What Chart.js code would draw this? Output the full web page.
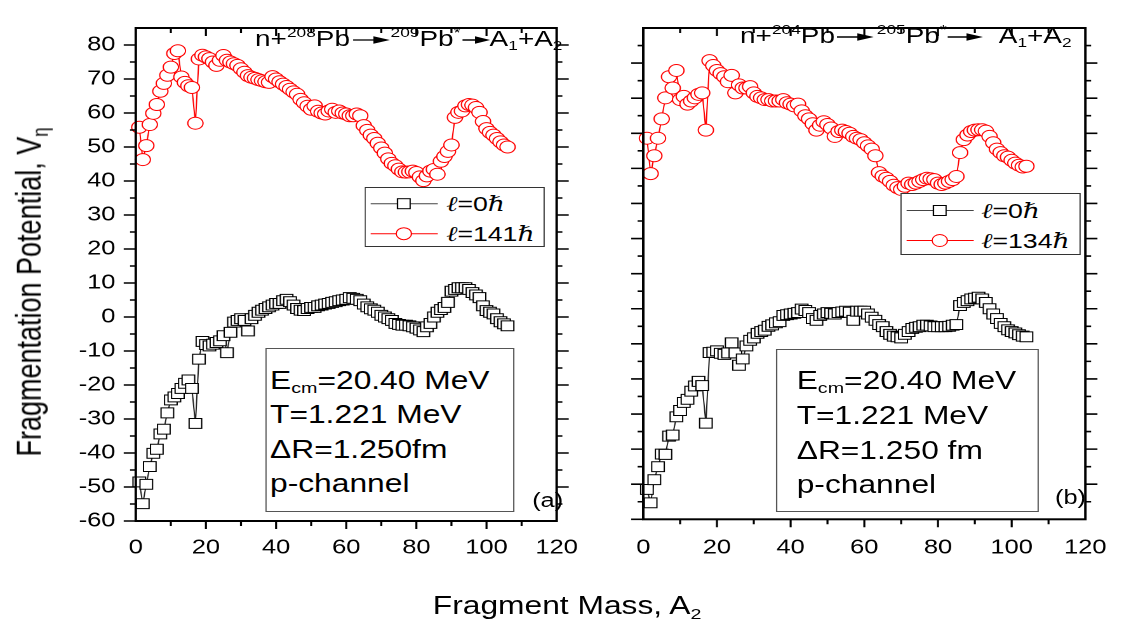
<!DOCTYPE html>
<html>
<head>
<meta charset="utf-8">
<title>Fragmentation potential</title>
<script src="https://cdn.jsdelivr.net/npm/chart.js@4.4.1/dist/chart.umd.min.js"></script>
<style>
  html, body { margin: 0; padding: 0; background: #fff; }
  body { width: 1128px; height: 622px; overflow: hidden; position: relative; }
  /* whole figure is drawn a bit narrower and widened horizontally */
  #stage { position: absolute; left: 0; top: 0; width: 888px; height: 622px;
           transform: scaleX(1.27); transform-origin: 0 0;
           font-family: "Liberation Sans", Arial, Helvetica, sans-serif; color: #000; }
  canvas { position: absolute; top: 0; }
  .label { position: absolute; white-space: nowrap; line-height: 1; }
  .up { position: relative; font-size: 0.62em; top: -0.66em; }
  .dn { position: relative; font-size: 0.62em; top: 0.32em; }
  .arrow { display: inline-block; vertical-align: middle; }
  .eq { font-size: 22px; }
  .box { position: absolute; border: 1px solid #555; background: #fff; }
  .info { font-size: 25px; }
  .lg { position: absolute; border: 1px solid #333; background: #fff; }
  .lg svg { position: absolute; left: 0; }
  .lg .t { position: absolute; left: 63px; font-size: 21px; line-height: 1; white-space: nowrap; }
  .sc { font-family: "DejaVu Serif", serif; font-style: italic; }
  .axt { font-size: 25px; }
</style>
</head>
<body>
<div id="stage">
  <canvas id="panelA" width="470" height="622" style="left:0"></canvas>
  <canvas id="panelB" width="410" height="622" style="left:478px"></canvas>

  <!-- reaction labels -->
  <div class="label eq" style="left:200.8px;top:28px">n+<span class="up">208</span>Pb<svg class="arrow" width="29" height="10" style="margin:0 1px 0 2px"><line x1="0" y1="5" x2="19" y2="5" stroke="#000" stroke-width="1.3"/><path d="M16 1.3 L29 5 L16 8.7 Z"/></svg><span class="up">209</span>Pb<span class="up">*</span><svg class="arrow" width="22" height="10" style="margin:0 0 0 1px"><line x1="0" y1="5" x2="12" y2="5" stroke="#000" stroke-width="1.3"/><path d="M10 1.3 L22 5 L10 8.7 Z"/></svg>A<span class="dn">1</span>+A<span class="dn">2</span></div>
  <div class="label eq" style="left:582.7px;top:24.7px">n+<span class="up">204</span>Pb<svg class="arrow" width="29" height="10" style="margin:0 2px 0 2px"><line x1="0" y1="5" x2="19" y2="5" stroke="#000" stroke-width="1.3"/><path d="M16 1.3 L29 5 L16 8.7 Z"/></svg><span class="up">205</span>Pb<span class="up">*</span><svg class="arrow" width="28" height="10" style="margin:0 12px 0 1px"><line x1="0" y1="5" x2="18" y2="5" stroke="#000" stroke-width="1.3"/><path d="M15 1.3 L28 5 L15 8.7 Z"/></svg>A<span class="dn">1</span>+A<span class="dn">2</span></div>

  <!-- legends -->
  <div class="lg" style="left:287.4px;top:187px;width:140px;height:58px">
    <svg width="60" height="58">
      <line x1="3.9" y1="15.7" x2="56.7" y2="15.7" stroke="#444" stroke-width="1"/>
      <rect x="25" y="10.7" width="10" height="10" fill="#fff" stroke="#000" stroke-width="1"/>
      <line x1="3.9" y1="45.7" x2="56.7" y2="45.7" stroke="#ff0000" stroke-width="1"/>
      <circle cx="30" cy="45.7" r="6" fill="#fff" stroke="#ff0000" stroke-width="1"/>
    </svg>
    <div class="t" style="top:5px"><span class="sc">ℓ</span>=0<span class="sc">ℏ</span></div>
    <div class="t" style="top:35px"><span class="sc">ℓ</span>=141<span class="sc">ℏ</span></div>
  </div>
  <div class="lg" style="left:708.7px;top:193.3px;width:140px;height:60px">
    <svg width="60" height="60">
      <line x1="3.9" y1="16.5" x2="56.7" y2="16.5" stroke="#444" stroke-width="1"/>
      <rect x="25" y="11.5" width="10" height="10" fill="#fff" stroke="#000" stroke-width="1"/>
      <line x1="3.9" y1="46.5" x2="56.7" y2="46.5" stroke="#ff0000" stroke-width="1"/>
      <circle cx="30" cy="46.5" r="6" fill="#fff" stroke="#ff0000" stroke-width="1"/>
    </svg>
    <div class="t" style="top:6px"><span class="sc">ℓ</span>=0<span class="sc">ℏ</span></div>
    <div class="t" style="top:36px"><span class="sc">ℓ</span>=134<span class="sc">ℏ</span></div>
  </div>

  <!-- parameter boxes -->
  <div class="box" style="left:208.6px;top:348.3px;width:194.8px;height:162px"></div>
  <div class="label info" style="left:212.6px;top:367.5px">E<span class="dn">cm</span>=20.40 MeV</div>
  <div class="label info" style="left:212.6px;top:402px">T=1.221 MeV</div>
  <div class="label info" style="left:212.6px;top:436.5px">&Delta;R=1.250fm</div>
  <div class="label info" style="left:212.6px;top:471px">p-channel</div>
  <div class="label" style="left:419px;top:490px;font-size:20px">(a)</div>

  <div class="box" style="left:610.8px;top:349px;width:205.6px;height:161px"></div>
  <div class="label info" style="left:627.3px;top:367.5px">E<span class="dn">cm</span>=20.40 MeV</div>
  <div class="label info" style="left:627.3px;top:403px">T=1.221 MeV</div>
  <div class="label info" style="left:627.3px;top:437.5px">&Delta;R=1.250 fm</div>
  <div class="label info" style="left:627.3px;top:472px">p-channel</div>
  <div class="label" style="left:830.7px;top:487px;font-size:20px">(b)</div>

  <!-- axis titles -->
  <div class="label axt" style="left:23.6px;top:292px;font-size:27px;transform:translate(-50%,-50%) rotate(-90deg)">Fragmentation Potential, V<span class="dn">&eta;</span></div>
  <div class="label axt" style="left:446.5px;top:605px;transform:translate(-50%,-50%)">Fragment Mass, A<span class="dn">2</span></div>
</div>

<script>
// fragment mass A2 for each panel
const massA = [
  1, 2, 3, 4, 5, 6, 7, 8, 9, 10, 11, 12, 13, 14, 15, 16, 17, 18, 19, 20,
  21, 22, 23, 24, 25, 26, 27, 28, 29, 30, 31, 32, 33, 34, 35, 36, 37, 38, 39, 40,
  41, 42, 43, 44, 45, 46, 47, 48, 49, 50, 51, 52, 53, 54, 55, 56, 57, 58, 59, 60,
  61, 62, 63, 64, 65, 66, 67, 68, 69, 70, 71, 72, 73, 74, 75, 76, 77, 78, 79, 80,
  81, 82, 83, 84, 85, 86, 87, 88, 89, 90, 91, 92, 93, 94, 95, 96, 97, 98, 99, 100,
  101, 102, 103, 104, 105, 106
];
const massB = [
  1, 2, 3, 4, 5, 6, 7, 8, 9, 10, 11, 12, 13, 14, 15, 16, 17, 18, 19, 20,
  21, 22, 23, 24, 25, 26, 27, 28, 29, 30, 31, 32, 33, 34, 35, 36, 37, 38, 39, 40,
  41, 42, 43, 44, 45, 46, 47, 48, 49, 50, 51, 52, 53, 54, 55, 56, 57, 58, 59, 60,
  61, 62, 63, 64, 65, 66, 67, 68, 69, 70, 71, 72, 73, 74, 75, 76, 77, 78, 79, 80,
  81, 82, 83, 84, 85, 86, 87, 88, 89, 90, 91, 92, 93, 94, 95, 96, 97, 98, 99, 100,
  101, 102, 103, 104
];

// n + 208Pb -> 209Pb*, V_eta (MeV)
const potL0A = [
  -48.5, -54.9, -49.2, -44.0, -40.1, -38.9, -34.4, -33.0, -28.2, -24.4,
  -23.5, -22.5, -21.0, -19.5, -18.5, -21.0, -31.3, -12.4, -7.2, -8.1,
  -8.5, -8.0, -7.5, -7.0, -5.5, -10.5, -4.5, -1.5, -1.0, -0.5,
  -1.0, -4.1, -0.5, 0.5, 1.4, 2.0, 2.5, 3.0, 3.5, 4.0,
  4.0, 4.8, 5.2, 4.5, 3.5, 2.5, 2.0, 1.9, 2.5, 2.8,
  2.8, 3.3, 3.5, 3.8, 4.0, 4.3, 4.5, 4.8, 5.0, 5.2,
  5.7, 5.5, 5.2, 4.8, 3.8, 3.0, 2.4, 2.0, 1.4, 0.5,
  0.0, -0.5, -1.0, -1.9, -2.2, -2.4, -2.4, -2.6, -2.9, -3.3,
  -3.8, -4.3, -2.9, -1.9, 0.0, 1.4, 2.2, 2.8, 4.3, 7.6,
  8.1, 8.6, 8.6, 8.6, 8.1, 7.2, 6.5, 5.7, 3.3, 1.9,
  1.4, 0.9, -0.5, -1.4, -2.0, -2.6
];
const potL141A = [
  55.8, 46.3, 50.4, 56.6, 59.9, 62.5, 66.4, 68.7, 71.1, 73.5,
  77.5, 78.3, 70.6, 69.0, 68.0, 67.5, 57.0, 75.9, 77.0, 76.5,
  76.0, 75.0, 74.0, 75.5, 76.9, 75.5, 75.0, 74.5, 74.0, 73.0,
  72.0, 71.0, 70.5, 70.2, 69.8, 69.5, 69.2, 69.0, 70.7, 70.0,
  69.2, 68.5, 67.8, 67.0, 66.2, 65.5, 64.0, 63.0, 62.0, 61.1,
  62.1, 60.5, 60.0, 59.7, 60.6, 61.1, 60.2, 60.6, 60.0, 59.7,
  59.2, 59.2, 59.7, 59.2, 56.3, 54.9, 53.5, 52.5, 51.1, 49.7,
  48.2, 46.5, 45.2, 44.5, 43.5, 42.7, 42.6, 42.7, 42.9, 42.5,
  41.2, 40.1, 41.5, 42.9, 43.4, 42.0, 45.8, 47.2, 48.7, 50.6,
  58.7, 60.2, 60.6, 62.1, 62.5, 62.3, 61.6, 60.2, 57.5, 55.4,
  54.3, 53.5, 52.5, 51.5, 50.6, 50.0
];

// n + 204Pb -> 205Pb*, V_eta (MeV)
const potL0B = [
  -51.5, -55.3, -48.7, -45.0, -41.4, -41.5, -36.3, -36.0, -30.8, -29.0,
  -26.7, -25.8, -23.5, -22.0, -20.7, -21.9, -32.6, -12.5, -12.4, -12.0,
  -12.7, -13.0, -12.6, -9.7, -12.6, -16.1, -14.3, -10.6, -9.0, -8.3,
  -7.0, -6.5, -6.1, -5.0, -4.6, -4.0, -3.7, -1.9, -1.7, -1.5,
  -1.3, -1.1, -0.1, -0.5, -1.1, -2.8, -3.3, -1.9, -1.5, -1.1,
  -1.3, -1.5, -1.1, -0.9, -0.7, -1.0, -3.3, -0.7, -0.7, -0.7,
  -1.5, -2.4, -3.3, -4.5, -5.1, -6.5, -7.3, -7.8, -8.0, -8.3,
  -7.3, -6.5, -5.6, -5.3, -5.1, -4.7, -4.7, -4.9, -5.1, -5.1,
  -5.1, -5.1, -5.0, -4.7, -4.5, 0.9, 1.8, 2.3, 2.8, 3.0,
  3.3, 2.8, 1.8, 0.0, -1.5, -2.8, -4.2, -5.1, -6.0, -6.5,
  -6.9, -7.4, -7.8, -8.0
];
const potL134B = [
  48.6, 38.5, 43.6, 48.6, 54.1, 60.1, 66.1, 62.9, 67.9, 59.6,
  60.5, 58.3, 59.2, 60.1, 61.1, 61.5, 50.9, 70.7, 69.3, 67.9,
  67.0, 66.1, 64.7, 66.5, 61.5, 63.8, 62.9, 62.9, 63.3, 61.5,
  60.5, 60.1, 59.6, 59.6, 59.2, 59.2, 59.2, 59.6, 58.7, 58.3,
  57.8, 58.3, 56.4, 55.0, 54.1, 52.7, 50.9, 52.3, 53.3, 52.5,
  51.5, 49.1, 50.5, 50.9, 50.5, 50.0, 49.1, 48.6, 48.2, 47.3,
  46.4, 45.5, 43.6, 38.8, 37.8, 37.2, 36.3, 35.2, 34.5, 34.0,
  34.9, 35.8, 35.4, 35.8, 36.3, 36.8, 37.2, 37.0, 36.8, 35.8,
  35.4, 35.8, 36.3, 36.8, 37.7, 44.5, 48.2, 49.5, 50.5, 50.9,
  51.0, 51.0, 50.6, 49.1, 47.3, 45.5, 44.5, 43.6, 43.2, 42.3,
  41.5, 40.9, 40.4, 40.6
];

// labelled ticks
const massTicks = [0, 20, 40, 60, 80, 100, 120];
const potTicks = [-60, -50, -40, -30, -20, -10, 0, 10, 20, 30, 40, 50, 60, 70, 80];

const tickFont = { family: '"Liberation Sans", Arial, sans-serif', size: 20 };

function points(xs, ys) {
  return xs.map((x, i) => ({ x: x, y: ys[i] }));
}

// closed frame with outward ticks left/right/bottom and inward ticks on top
const frameTicks = {
  id: 'frameTicks',
  afterDatasetsDraw(chart) {
    const { ctx, chartArea: a, scales: { x, y } } = chart;
    ctx.save();
    ctx.strokeStyle = '#000';
    ctx.lineWidth = 1.6;
    ctx.beginPath();
    y.ticks.forEach(t => {
      if (t.value <= y.min || t.value >= y.max) return;
      const py = y.getPixelForValue(t.value);
      const len = potTicks.includes(t.value) ? 9.5 : 4.5;
      ctx.moveTo(a.left - len, py); ctx.lineTo(a.left, py);
      ctx.moveTo(a.right, py); ctx.lineTo(a.right + len, py);
    });
    y.ticks.forEach(t => {
      if (t.value !== y.min) return;
      const py = y.getPixelForValue(t.value);
      ctx.moveTo(a.left - 9.5, py); ctx.lineTo(a.left, py);
    });
    x.ticks.forEach(t => {
      if (t.value <= x.min || t.value >= x.max) return;
      const px = x.getPixelForValue(t.value);
      const len = massTicks.includes(t.value) ? 8 : 5;
      ctx.moveTo(px, a.bottom); ctx.lineTo(px, a.bottom + len);
      ctx.moveTo(px, a.top); ctx.lineTo(px, a.top + len);
    });
    ctx.stroke();
    ctx.lineWidth = 2;
    ctx.strokeRect(a.left, a.top, a.right - a.left, a.bottom - a.top);
    ctx.restore();
  }
};

function makePanel(id, xs, yZero, yHigh, labelHigh, cfg) {
  const ctx = document.getElementById(id).getContext('2d');
  return new Chart(ctx, {
    type: 'line',
    data: {
      datasets: [{
        label: 'l=0',
        data: points(xs, yZero),
        borderColor: '#222',
        borderWidth: 1,
        pointStyle: 'rect',
        pointRadius: 7,
        pointBorderColor: '#000',
        pointBorderWidth: 1,
        pointBackgroundColor: '#fff',
        tension: 0,
        clip: false
      }, {
        label: labelHigh,
        data: points(xs, yHigh),
        borderColor: '#ff0000',
        borderWidth: 1,
        pointStyle: 'circle',
        pointRadius: 6,
        pointBorderColor: '#ff0000',
        pointBorderWidth: 1,
        pointBackgroundColor: '#fff',
        tension: 0,
        clip: false
      }]
    },
    options: {
      responsive: false,
      animation: false,
      devicePixelRatio: 2,
      layout: { padding: { top: cfg.top, right: cfg.right, left: 0, bottom: 0 } },
      plugins: { legend: { display: false }, tooltip: { enabled: false } },
      scales: {
        x: {
          type: 'linear',
          min: 0,
          max: 120,
          grid: { display: false, drawTicks: false },
          border: { display: false },
          ticks: {
            stepSize: 10,
            autoSkip: false,
            maxRotation: 0,
            padding: cfg.xPad,
            color: '#000',
            font: tickFont,
            callback: function(value) {
              return massTicks.includes(value) ? value : '';
            }
          },
          afterFit: function(scale) { scale.height = cfg.xHeight; }
        },
        y: {
          type: 'linear',
          min: -60,
          max: cfg.yMax,
          grid: { display: false, drawTicks: false },
          border: { display: false },
          ticks: {
            stepSize: 5,
            autoSkip: false,
            padding: 16,
            color: '#000',
            font: tickFont,
            callback: function(value) {
              if (!cfg.yLabels) return '';
              return potTicks.includes(value) ? value : '';
            }
          },
          afterFit: function(scale) { scale.width = cfg.yWidth; }
        }
      }
    },
    plugins: [frameTicks]
  });
}

makePanel('panelA', massA, potL0A, potL141A, 'l=141', {
  top: 14, right: 21.7, xHeight: 101, xPad: 15, yWidth: 106.9, yMax: 85, yLabels: true
});
makePanel('panelB', massB, potL0B, potL134B, 'l=134', {
  top: 11.1, right: 18.7, xHeight: 102.7, xPad: 16.7, yWidth: 28.5, yMax: 80, yLabels: false
});
</script>
</body>
</html>
